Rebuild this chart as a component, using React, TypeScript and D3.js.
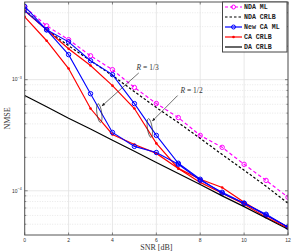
import React from 'react';
import * as d3 from 'd3';

const snr = [0, 1, 2, 3, 4, 5, 6, 7, 8, 9, 10, 11, 12];
const ndaMl = [4.5e-3, 3.05e-3, 2.29e-3, 1.64e-3, 1.23e-3, 8.5e-4, 6.1e-4, 4.56e-4, 3.15e-4, 2.46e-4, 1.73e-4, 1.24e-4, 8.75e-5];
const ndaCrlb = [4.25e-3, 2.81e-3, 2.02e-3, 1.48e-3, 1.09e-3, 7.8e-4, 5.61e-4, 4.11e-4, 2.96e-4, 2.12e-4, 1.53e-4, 1.1e-4, 7.73e-5];
const caMlHalf = [4.56e-3, 2.81e-3, 2.19e-3, 1.48e-3, 1.11e-3, 6.09e-4, 3.15e-4, 1.77e-4, 1.27e-4, 9.5e-5, 7.73e-5, 6.15e-5, 4.71e-5];
const caMlThird = [4.2e-3, 2.81e-3, 1.68e-3, 7.48e-4, 3.35e-4, 2.51e-4, 2.21e-4, 1.73e-4, 1.24e-4, 9.7e-5, 7.73e-5, 6.03e-5, 4.71e-5];
const caCrlbHalf = [4.16e-3, 2.81e-3, 1.9e-3, 1.34e-3, 8.83e-4, 5.5e-4, 2.67e-4, 1.59e-4, 1.27e-4, 1.07e-4, 7.88e-5, 6.03e-5, 4.71e-5];
const caCrlbThird = [3.67e-3, 2.24e-3, 1.26e-3, 5.5e-4, 3.21e-4, 2.61e-4, 2.17e-4, 1.59e-4, 1.19e-4, 9.5e-5, 7.57e-5, 5.78e-5, 4.61e-5];
const daCrlb = [7.2e-4, 5.7e-4, 4.5e-4, 3.6e-4, 2.85e-4, 2.27e-4, 1.8e-4, 1.43e-4, 1.14e-4, 9.0e-5, 7.2e-5, 5.7e-5, 4.5e-5];

const xTicks = [0, 2, 4, 6, 8, 10, 12];
const yMajor = [1e-3, 1e-4];
const yMinor = [5e-5, 6e-5, 7e-5, 8e-5, 9e-5, 2e-4, 3e-4, 4e-4, 5e-4, 6e-4, 7e-4, 8e-4, 9e-4, 2e-3, 3e-3, 4e-3];
const legendLabels = ['NDA ML', 'NDA CRLB', 'New CA ML', 'CA CRLB', 'DA CRLB'];

// annotation anchors in data units: [text x, text y, arrow from x, y, arrow to x, y, ellipse x, y]
const annoThird = { label: '1/3', tx: 5.1, ty: 1.23e-3, ax: 5.2, ay: 1.15e-3, bx: 3.52, by: 5.8e-4, ex: 3.4, ey: 5.0e-4 };
const annoHalf = { label: '1/2', tx: 7.1, ty: 7.64e-4, ax: 6.97, ay: 7.2e-4, bx: 5.82, by: 4.25e-4, ex: 5.7, ey: 3.67e-4 };

const W = 292;
const H = 252;

const App: React.FC = () => {
  const x = d3.scaleLinear().domain([0, 12]).range([24.7, 288]);
  const y = d3.scaleLog().domain([4e-5, 5e-3]).range([235, 2]);
  const [x0, x1] = x.range();
  const [yb, yt] = y.range();

  const line = d3.line<number>()
    .x((_, i) => x(snr[i]))
    .y(d => y(d));

  const series = [
    { data: ndaMl, color: '#ff00ff', dash: '3.5,2.5', marker: 'circle', width: 1.2 },
    { data: ndaCrlb, color: '#000000', dash: '2.5,2', marker: 'none', width: 1.2 },
    { data: caCrlbHalf, color: '#ff0000', dash: null, marker: 'dot', width: 1.2 },
    { data: caCrlbThird, color: '#ff0000', dash: null, marker: 'dot', width: 1.2 },
    { data: caMlHalf, color: '#0000ff', dash: null, marker: 'circle', width: 1.1 },
    { data: caMlThird, color: '#0000ff', dash: null, marker: 'circle', width: 1.1 },
    { data: daCrlb, color: '#000000', dash: null, marker: 'none', width: 1.2 },
  ];

  const legendItems = [
    { color: '#ff00ff', dash: '3,2', marker: 'circle' },
    { color: '#000000', dash: '2.5,2', marker: 'none' },
    { color: '#0000ff', dash: null, marker: 'circle' },
    { color: '#ff0000', dash: null, marker: 'dot' },
    { color: '#000000', dash: null, marker: 'none' },
  ];

  const annos = [annoThird, annoHalf];

  return (
    <svg width={W} height={H} style={{ position: 'absolute', left: 0, top: 0, background: '#fff' }}>
      <defs>
        <marker id="arr" viewBox="0 0 10 10" refX="9" refY="5" markerWidth="5" markerHeight="5" orient="auto">
          <path d="M0,1 L10,5 L0,9 Z" fill="#222" />
        </marker>
        <clipPath id="plot">
          <rect x={x0} y={yt} width={x1 - x0} height={yb - yt} />
        </clipPath>
      </defs>

      {/* grid */}
      {yMinor.map(v => (
        <line key={'mn' + v} x1={x0} x2={x1} y1={y(v)} y2={y(v)} stroke="#d8d8d8" strokeWidth={0.6} strokeDasharray="1,1.5" />
      ))}
      {yMajor.map(v => (
        <line key={'mj' + v} x1={x0} x2={x1} y1={y(v)} y2={y(v)} stroke="#e2e2e2" strokeWidth={0.8} />
      ))}
      {xTicks.map(t => (
        <line key={'gx' + t} x1={x(t)} x2={x(t)} y1={yt} y2={yb} stroke="#e2e2e2" strokeWidth={0.8} />
      ))}

      {/* curves */}
      <g clipPath="url(#plot)">
        {series.map((s, k) => (
          <g key={k}>
            <path d={line(s.data) || ''} fill="none" stroke={s.color} strokeWidth={s.width}
              strokeDasharray={s.dash || undefined} />
            {s.marker === 'circle' && s.data.map((v, i) => (
              <circle key={i} cx={x(snr[i])} cy={y(v)} r={2.2} fill="none" stroke={s.color} strokeWidth={1} />
            ))}
            {s.marker === 'dot' && s.data.map((v, i) => (
              <circle key={i} cx={x(snr[i])} cy={y(v)} r={1.3} fill={s.color} />
            ))}
          </g>
        ))}
      </g>

      {/* annotations */}
      {annos.map((a, k) => (
        <g key={'a' + k}>
          <ellipse cx={x(a.ex)} cy={y(a.ey)} rx={2.4} ry={9.5} fill="none" stroke="#333" strokeWidth={0.7}
            transform={`rotate(-8 ${x(a.ex)} ${y(a.ey)})`} />
          <line x1={x(a.ax)} y1={y(a.ay)} x2={x(a.bx)} y2={y(a.by)} stroke="#333" strokeWidth={0.7} markerEnd="url(#arr)" />
          <text x={x(a.tx)} y={y(a.ty)} fontFamily="Liberation Serif" fontSize={7.5} fill="#333">
            <tspan fontStyle="italic">R</tspan> = {a.label}
          </text>
        </g>
      ))}

      {/* frame and ticks */}
      <rect x={x0} y={yt} width={x1 - x0} height={yb - yt} fill="none" stroke="#555" strokeWidth={1} />
      {xTicks.map(t => (
        <g key={'xt' + t}>
          <line x1={x(t)} x2={x(t)} y1={yb} y2={yb - 2.5} stroke="#555" strokeWidth={0.7} />
          <line x1={x(t)} x2={x(t)} y1={yt} y2={yt + 2.5} stroke="#555" strokeWidth={0.7} />
          <text x={x(t)} y={yb + 7} textAnchor="middle" fontFamily="Liberation Sans" fontSize={5} fill="#333">{t}</text>
        </g>
      ))}
      {yMinor.concat(yMajor).map(v => {
        const len = yMajor.includes(v) ? 3 : 1.6;
        return (
          <g key={'yt' + v}>
            <line x1={x0} x2={x0 + len} y1={y(v)} y2={y(v)} stroke="#555" strokeWidth={0.7} />
            <line x1={x1} x2={x1 - len} y1={y(v)} y2={y(v)} stroke="#555" strokeWidth={0.7} />
          </g>
        );
      })}
      {yMajor.map(v => (
        <text key={'yl' + v} x={x0 - 3} y={y(v) + 1.8} textAnchor="end" fontFamily="Liberation Sans" fontSize={5} fill="#333">
          10<tspan dy={-2.2} fontSize={3.6}>{'\u2212' + Math.round(-Math.log10(v))}</tspan>
        </text>
      ))}

      {/* axis labels */}
      <text x={(x0 + x1) / 2} y={250} textAnchor="middle" fontFamily="Liberation Serif" fontSize={8} fill="#333">SNR [dB]</text>
      <text transform={`translate(9.5,${(yt + yb) / 2}) rotate(-90)`} textAnchor="middle" fontFamily="Liberation Serif" fontSize={8} fill="#333">NMSE</text>

      {/* legend */}
      <g>
        <rect x={222.5} y={2} width={64.5} height={50} fill="#fff" stroke="#444" strokeWidth={1} />
        {legendItems.map((it, i) => {
          const ly = 7 + i * 10;
          return (
            <g key={'lg' + i}>
              <line x1={225} x2={242} y1={ly} y2={ly} stroke={it.color} strokeWidth={1.2} strokeDasharray={it.dash || undefined} />
              {it.marker === 'circle' && <circle cx={233.5} cy={ly} r={2} fill="none" stroke={it.color} strokeWidth={1} />}
              {it.marker === 'dot' && <circle cx={233.5} cy={ly} r={1.3} fill={it.color} />}
              <text x={244} y={ly + 2.2} fontFamily="Liberation Mono" fontWeight="bold" fontSize={6.6} fill="#222">{legendLabels[i]}</text>
            </g>
          );
        })}
      </g>
    </svg>
  );
};

export default App;
